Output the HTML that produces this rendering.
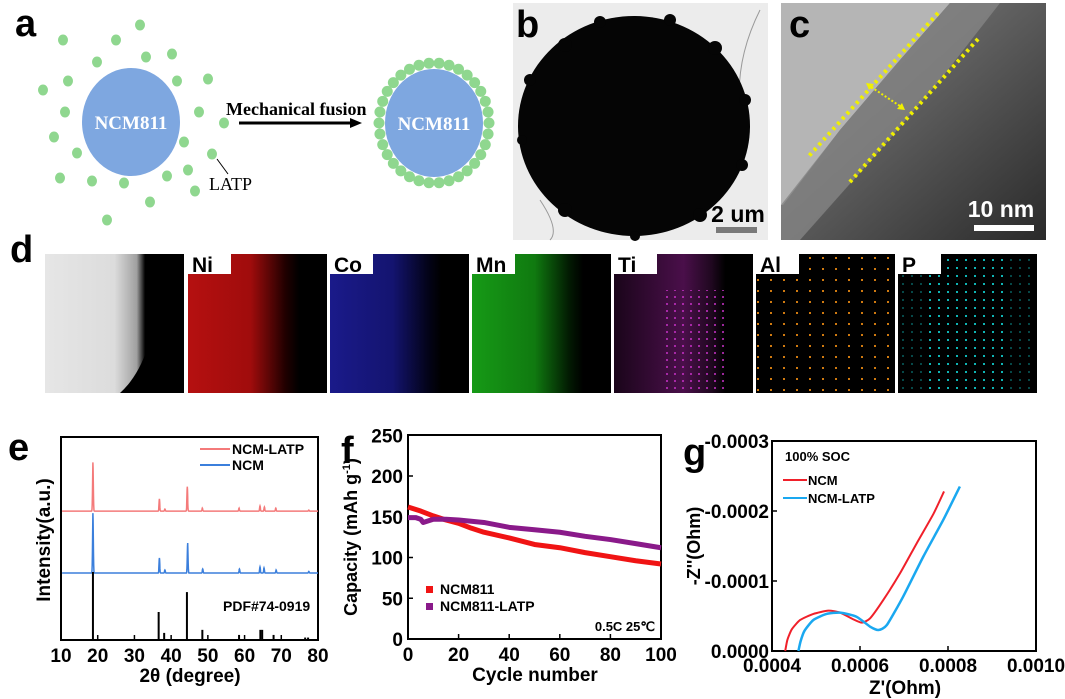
<!DOCTYPE html>
<html><head><meta charset="utf-8"><style>
html,body{margin:0;padding:0;background:#fff;}
svg{display:block;font-family:"Liberation Sans",Arial,sans-serif;}
.lbl{font-weight:bold;font-size:38px;}
.tk{font-weight:bold;font-size:19px;}
.ser{font-family:"Liberation Serif",serif;font-weight:bold;}
</style></head><body>
<svg id="fig" width="1065" height="699" viewBox="0 0 1065 699" xmlns="http://www.w3.org/2000/svg">
<defs>
<linearGradient id="gC" x1="0" y1="0" x2="1" y2="1"><stop offset="0" stop-color="#8a8a8a"/><stop offset="0.5" stop-color="#5a5a5a"/><stop offset="1" stop-color="#2a2a2a"/></linearGradient>
<linearGradient id="gHA" x1="0" y1="0" x2="1" y2="0"><stop offset="0" stop-color="#e6e6e6"/><stop offset="0.5" stop-color="#dcdcdc"/><stop offset="0.66" stop-color="#a0a0a0"/><stop offset="0.72" stop-color="#000"/></linearGradient>
<linearGradient id="gNi" x1="0" y1="0" x2="1" y2="0"><stop offset="0" stop-color="#b51010"/><stop offset="0.45" stop-color="#a00c0c"/><stop offset="0.7" stop-color="#200000"/><stop offset="0.8" stop-color="#000"/></linearGradient>
<linearGradient id="gCo" x1="0" y1="0" x2="1" y2="0"><stop offset="0" stop-color="#1a1a8a"/><stop offset="0.45" stop-color="#141470"/><stop offset="0.7" stop-color="#03031a"/><stop offset="0.8" stop-color="#000"/></linearGradient>
<linearGradient id="gMn" x1="0" y1="0" x2="1" y2="0"><stop offset="0" stop-color="#169a16"/><stop offset="0.45" stop-color="#107a10"/><stop offset="0.7" stop-color="#021a02"/><stop offset="0.8" stop-color="#000"/></linearGradient>
<linearGradient id="gTi" x1="0" y1="0" x2="1" y2="0"><stop offset="0" stop-color="#1a051a"/><stop offset="0.5" stop-color="#4a0f4a"/><stop offset="0.7" stop-color="#200820"/><stop offset="0.8" stop-color="#000"/></linearGradient>
<pattern id="pAl" width="13" height="11" patternUnits="userSpaceOnUse"><rect width="13" height="11" fill="#000"/><rect x="3" y="4" width="2" height="2" fill="#d07a10"/></pattern>
<pattern id="pP" width="9" height="8" patternUnits="userSpaceOnUse"><rect width="9" height="8" fill="#000"/><rect x="2" y="3" width="2" height="2" fill="#0fb5b5"/></pattern>
<pattern id="pTi" width="8" height="7" patternUnits="userSpaceOnUse"><rect x="2" y="2" width="2" height="2" fill="#c030c0"/></pattern>
</defs>

<!-- Panel a -->
<g>
<text x="15" y="36" class="lbl">a</text>
<g id="dotsA" fill="#8fd78f"></g>
<ellipse cx="131" cy="122" rx="49" ry="54" fill="#7ea7e0"/>
<text x="131" y="129" fill="#fff" font-size="19" text-anchor="middle" class="ser">NCM811</text>
<text x="226" y="115" font-size="18" class="ser">Mechanical fusion</text>
<line x1="239" y1="123" x2="352" y2="123" stroke="#000" stroke-width="3"/>
<polygon points="362,123 350,118 350,128" fill="#000"/>
<line x1="217" y1="159" x2="228" y2="174" stroke="#000" stroke-width="1"/>
<text x="209" y="190" font-size="18" class="ser" style="font-weight:normal">LATP</text>
<g id="ringA" fill="#8fd78f"></g>
<ellipse cx="434" cy="123" rx="49" ry="54" fill="#7ea7e0"/>
<text x="434" y="130" fill="#fff" font-size="19" text-anchor="middle" class="ser">NCM811</text>
</g>

<!-- Panel b -->
<g>
<rect x="513" y="3" width="255" height="237" fill="#ececec"/>
<path d="M760,10 Q735,60 740,110 M540,200 Q560,230 550,240" stroke="#999" fill="none" stroke-width="1"/>
<ellipse cx="634" cy="126" rx="116" ry="110" fill="#050505"/>
<g fill="#050505"><circle cx="565" cy="45" r="7"/><circle cx="600" cy="22" r="6"/><circle cx="670" cy="20" r="6"/><circle cx="715" cy="48" r="7"/><circle cx="745" cy="100" r="6"/><circle cx="742" cy="165" r="6"/><circle cx="700" cy="215" r="7"/><circle cx="635" cy="236" r="5"/><circle cx="565" cy="210" r="7"/><circle cx="522" cy="140" r="5"/><circle cx="530" cy="80" r="6"/></g>
<text x="516" y="37" class="lbl">b</text>
<text x="738" y="222" font-size="23" font-weight="bold" text-anchor="middle">2 um</text>
<rect x="716" y="227" width="41" height="6" fill="#7a7a7a"/>
</g>

<!-- Panel c -->
<g>
<rect x="781" y="3" width="265" height="237" fill="url(#gC)"/>
<polygon points="781,3 950,3 900,60 840,130 783,205 781,205" fill="#b5b5b5"/>
<polygon points="950,3 1000,3 940,80 880,150 800,240 781,240 781,205 840,130 900,60" fill="#858585" opacity="0.8"/>
<text x="789" y="37" class="lbl">c</text>
<line x1="938" y1="13" x2="809" y2="156" stroke="#f0f000" stroke-width="4" stroke-dasharray="3,4"/>
<line x1="978" y1="39" x2="849" y2="183" stroke="#f0f000" stroke-width="4" stroke-dasharray="3,4"/>
<line x1="868" y1="85" x2="903" y2="108" stroke="#f0f000" stroke-width="2" stroke-dasharray="2,2"/>
<polygon points="866,83 874,84 869,90" fill="#f0f000"/><polygon points="905,110 897,109 902,103" fill="#f0f000"/>
<text x="1001" y="217" font-size="23" font-weight="bold" fill="#fff" text-anchor="middle">10 nm</text>
<rect x="974" y="225" width="60" height="6" fill="#fff"/>
</g>

<!-- Panel d -->
<g>
<text x="10" y="262" class="lbl">d</text>
<rect x="45" y="254" width="139" height="139" fill="url(#gHA)"/>
<path d="M150,254 Q160,300 150,340 Q140,375 120,393 L184,393 L184,254 Z" fill="#000"/>
<rect x="188" y="254" width="139" height="139" fill="url(#gNi)"/>
<rect x="330" y="254" width="139" height="139" fill="url(#gCo)"/>
<rect x="472" y="254" width="139" height="139" fill="url(#gMn)"/>
<rect x="614" y="254" width="139" height="139" fill="url(#gTi)"/>
<rect x="660" y="290" width="70" height="103" fill="url(#pTi)" opacity="0.8"/>
<rect x="756" y="254" width="139" height="139" fill="url(#pAl)"/>
<rect x="898" y="254" width="139" height="139" fill="url(#pP)"/>
<rect x="898" y="254" width="30" height="139" fill="#000" opacity="0.6"/><rect x="1005" y="254" width="32" height="139" fill="#000" opacity="0.6"/>
<g font-weight="bold" font-size="21">
<rect x="188" y="254" width="43" height="20" fill="#fff"/><text x="192" y="272">Ni</text>
<rect x="330" y="254" width="43" height="20" fill="#fff"/><text x="334" y="272">Co</text>
<rect x="472" y="254" width="43" height="20" fill="#fff"/><text x="476" y="272">Mn</text>
<rect x="614" y="254" width="43" height="20" fill="#fff"/><text x="618" y="272">Ti</text>
<rect x="756" y="254" width="43" height="20" fill="#fff"/><text x="760" y="272">Al</text>
<rect x="898" y="254" width="43" height="20" fill="#fff"/><text x="902" y="272">P</text>
</g>
</g>

<!-- Panel e -->
<g id="chartE">
<text x="8" y="460" class="lbl">e</text>
<rect x="61" y="437" width="257" height="203" fill="none" stroke="#000" stroke-width="2"/>
<text transform="translate(50,540) rotate(-90)" text-anchor="middle" font-size="19" font-weight="bold">Intensity(a.u.)</text>
<text x="190" y="682" text-anchor="middle" font-size="19" font-weight="bold">2θ (degree)</text>
<line x1="200" y1="449" x2="230" y2="449" stroke="#f47a7a" stroke-width="2"/>
<text x="232" y="454" font-size="14" font-weight="bold">NCM-LATP</text>
<line x1="200" y1="465" x2="230" y2="465" stroke="#3b7fdc" stroke-width="2"/>
<text x="232" y="470" font-size="14" font-weight="bold">NCM</text>
<text x="223" y="611" font-size="14" font-weight="bold">PDF#74-0919</text>
</g>

<!-- Panel f -->
<g id="chartF">
<text x="341" y="463" class="lbl">f</text>
<rect x="408" y="435" width="253" height="204" fill="none" stroke="#000" stroke-width="2"/>
<text transform="translate(357,537) rotate(-90)" text-anchor="middle" font-size="18" font-weight="bold">Capacity (mAh g<tspan font-size="11" dy="-7">-1</tspan><tspan dy="7">)</tspan></text>
<text x="535" y="681" text-anchor="middle" font-size="19" font-weight="bold">Cycle number</text>
<rect x="426" y="586" width="7" height="7" fill="#f01414"/>
<text x="440" y="594" font-size="14" font-weight="bold">NCM811</text>
<rect x="426" y="603" width="7" height="7" fill="#8a1a8a"/>
<text x="440" y="611" font-size="14" font-weight="bold">NCM811-LATP</text>
<text x="655" y="631" font-size="13" font-weight="bold" text-anchor="end">0.5C 25℃</text>
</g>

<!-- Panel g -->
<g id="chartG">
<text x="683" y="465" class="lbl">g</text>
<rect x="772" y="441" width="264" height="210" fill="none" stroke="#000" stroke-width="2"/>
<text transform="translate(700,546) rotate(-90)" text-anchor="middle" font-size="18" font-weight="bold">-Z''(Ohm)</text>
<text x="905" y="694" text-anchor="middle" font-size="19" font-weight="bold">Z'(Ohm)</text>
<text x="785" y="461" font-size="13" font-weight="bold">100% SOC</text>
<line x1="783" y1="480" x2="807" y2="480" stroke="#f0202a" stroke-width="2"/>
<text x="808" y="485" font-size="13" font-weight="bold">NCM</text>
<line x1="783" y1="498" x2="807" y2="498" stroke="#1aa8f0" stroke-width="2"/>
<text x="808" y="503" font-size="13" font-weight="bold">NCM-LATP</text>
</g>
</svg>
<script>
const NS='http://www.w3.org/2000/svg';
function mk(tag,attrs,parent){const e=document.createElementNS(NS,tag);for(const k in attrs)e.setAttribute(k,attrs[k]);parent.appendChild(e);return e;}

const looseDotsX=[140,63,116,146,172,97,68,177,208,43,65,199,224,54,184,77,212,60,92,124,167,188,195,150,107];
const looseDotsY=[25,40,40,57,54,62,81,81,79,90,112,112,123,137,142,153,154,178,181,183,176,170,191,202,220];
const dA=document.getElementById('dotsA');
for(let i=0;i<looseDotsX.length;i++){const c=mk('ellipse',{cx:looseDotsX[i],cy:looseDotsY[i],rx:5,ry:5.5},dA);

}
const rA=document.getElementById('ringA');
for(let i=0;i<34;i++){const t=i/34*2*Math.PI;const c=mk('circle',{cx:434+55*Math.cos(t),cy:123+60*Math.sin(t),r:5.5},rA);

}

// ===== Chart e: XRD =====
const xrdTicks=[10,20,30,40,50,60,70,80];
const refPos=[18.7,36.6,38.1,44.3,48.5,58.5,64.3,64.8,67.9,76.5,77.3];
const refH=[33.5,13.8,3.5,23.6,5,2.5,5,5,2.5,1.2,1.2];
const ncmPos=[18.7,36.8,38.3,44.5,48.6,58.6,64.2,65.3,68.6,77.5];
const ncmH=[29.5,7.4,1.5,14.8,2,2,3,2.5,1.5,0.8];
const ncmBase=[33];
const latpPos=[18.7,36.8,38.3,44.4,48.5,58.5,64.2,65.4,68.5,77.5];
const latpH=[24,6,1,12,1.5,1.5,2.5,2,1.5,0.5];
const latpBase=[63.5];
const xE=v=>61+(v-10)/70*257, yE=v=>640-v*2.03;
const gE=document.getElementById('chartE');
xrdTicks.forEach(t=>{const l=mk('line',{x1:xE(t),x2:xE(t),y1:640,y2:635,stroke:'#000','stroke-width':1.5},gE);


const tx=mk('text',{x:xE(t),y:662,'text-anchor':'middle',class:'tk'},gE);tx.textContent=t;

});
function xrdPath(pos,h,base){let d='';for(let x=10.3;x<=80;x+=0.05){let y=base;for(let i=0;i<pos.length;i++)y+=h[i]*Math.exp(-Math.pow((x-pos[i])/0.14,2));d+=(d?'L':'M')+xE(x).toFixed(1)+','+yE(y).toFixed(1);}return d;}
const pL=mk('path',{d:xrdPath(latpPos,latpH,latpBase[0]),fill:'none',stroke:'#f47a7a','stroke-width':1.5},gE);


const pN=mk('path',{d:xrdPath(ncmPos,ncmH,ncmBase[0]),fill:'none',stroke:'#3b7fdc','stroke-width':1.5},gE);


refPos.forEach((p,i)=>{const l=mk('line',{x1:xE(p),x2:xE(p),y1:yE(0),y2:yE(refH[i]),stroke:'#000','stroke-width':2},gE);

});

// ===== Chart f: cycling =====
const fXTicks=[0,20,40,60,80,100];
const fYTicks=[0,50,100,150,200,250];
const ncmCycles=[0,5,10,15,20,25,30,40,50,60,70,80,90,100];
const ncmCap=[162,157,151,146,142,136,131,124,116,112,106,101,96,92];
const latpCycles=[0,3,5,6,8,10,15,20,30,40,50,60,70,80,90,100];
const latpCap=[149,149,147,143,145,147,147,146,143,137,134,131,126,122,117,112];
const xF=c=>408+c*2.53, yF=v=>639-v*0.815;
const gF=document.getElementById('chartF');
fXTicks.forEach(t=>{const l=mk('line',{x1:xF(t),x2:xF(t),y1:639,y2:634,stroke:'#000','stroke-width':1.5},gF);


const tx=mk('text',{x:xF(t),y:661,'text-anchor':'middle',class:'tk'},gF);tx.textContent=t;

});
fYTicks.forEach(t=>{const l=mk('line',{x1:408,x2:413,y1:yF(t),y2:yF(t),stroke:'#000','stroke-width':1.5},gF);


const tx=mk('text',{x:403,y:yF(t)+7,'text-anchor':'end',class:'tk'},gF);tx.textContent=t;

});
const lN=mk('polyline',{points:ncmCycles.map((c,i)=>xF(c)+','+yF(ncmCap[i])).join(' '),fill:'none',stroke:'#f01414','stroke-width':5,'stroke-linejoin':'round'},gF);


const lL=mk('polyline',{points:latpCycles.map((c,i)=>xF(c)+','+yF(latpCap[i])).join(' '),fill:'none',stroke:'#8a1a8a','stroke-width':5,'stroke-linejoin':'round'},gF);



// ===== Chart g: EIS =====
const gXTicks=[0.0004,0.0006,0.0008,0.0010];
const gYTicks=[0,0.0001,0.0002,0.0003];
const gYLabels=['0.0000','-0.0001','-0.0002','-0.0003'];
const gXLabels=['0.0004','0.0006','0.0008','0.0010'];
const ncmRe=[0.000430,0.000435,0.000445,0.000464,0.000494,0.000528,0.000555,0.000585,0.000604,0.000623,0.000653,0.000691,0.000729,0.000767,0.000791];
const ncmIm=[0,0.000016,0.000031,0.0000443,0.0000529,0.0000576,0.0000548,0.0000452,0.0000405,0.0000467,0.0000729,0.000111,0.000154,0.000196,0.000228];
const latpRe=[0.000460,0.000465,0.000474,0.000494,0.000524,0.000555,0.000592,0.000623,0.000642,0.000661,0.000698,0.000744,0.000789,0.000827];
const latpIm=[0,0.000014,0.000029,0.0000443,0.0000529,0.0000548,0.000049,0.0000348,0.000030,0.0000371,0.0000776,0.000135,0.000187,0.000235];
const xG=z=>772+(z-0.0004)*440000, yG=v=>651-v*700000;
const gG=document.getElementById('chartG');
gXTicks.forEach((t,i)=>{const l=mk('line',{x1:xG(t),x2:xG(t),y1:651,y2:646,stroke:'#000','stroke-width':1.5},gG);


const tx=mk('text',{x:xG(t),y:672,'text-anchor':'middle',class:'tk'},gG);tx.textContent=gXLabels[i];

});
gYTicks.forEach((t,i)=>{const l=mk('line',{x1:772,x2:777,y1:yG(t),y2:yG(t),stroke:'#000','stroke-width':1.5},gG);


const tx=mk('text',{x:769,y:yG(t)+7,'text-anchor':'end',class:'tk'},gG);tx.textContent=gYLabels[i];

});
function smooth(xs,ys){let p=xs.map((x,i)=>[xG(x),yG(ys[i])]);let d='M'+p[0][0]+','+p[0][1];const k=10;for(let i=0;i<p.length-1;i++){const p0=p[i-1]||p[i],p1=p[i],p2=p[i+1],p3=p[i+2]||p2;d+=' C'+(p1[0]+(p2[0]-p0[0])/k)+','+(p1[1]+(p2[1]-p0[1])/k)+' '+(p2[0]-(p3[0]-p1[0])/k)+','+(p2[1]-(p3[1]-p1[1])/k)+' '+p2[0]+','+p2[1];}return d;}
const eN=mk('path',{d:smooth(ncmRe,ncmIm),fill:'none',stroke:'#f0202a','stroke-width':2},gG);


const eL=mk('path',{d:smooth(latpRe,latpIm),fill:'none',stroke:'#1aa8f0','stroke-width':2.5},gG);


</script>
</body></html>
